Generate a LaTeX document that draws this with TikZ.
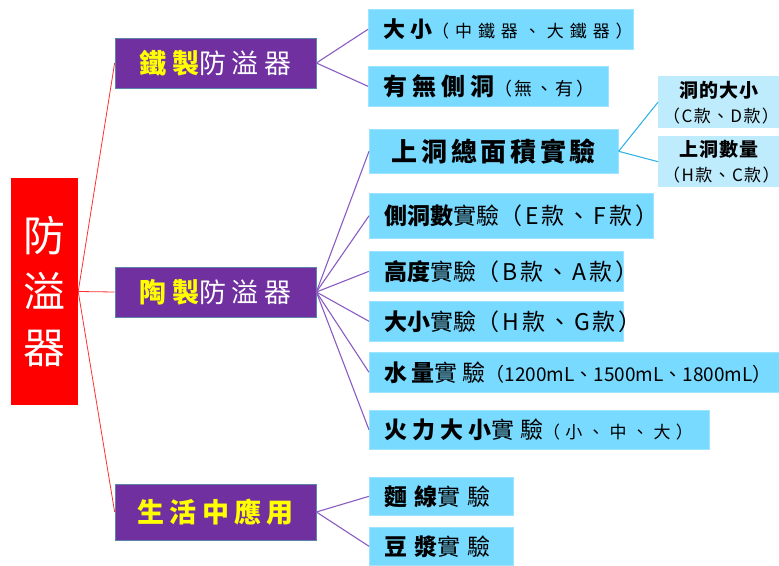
\documentclass[tikz,border=0pt]{standalone}
\usepackage{fontspec}
\newfontfamily\cjk{Noto Sans CJK TC}
\newcommand\seg[3]{{\fontsize{#1}{#1}\selectfont\addfontfeature{LetterSpace=#2}#3}}
\newcommand\bseg[3]{{\fontsize{#1}{#1}\selectfont\bfseries\addfontfeature{LetterSpace=#2}#3}}
\definecolor{purp}{HTML}{7030A0}
\definecolor{purpedge}{HTML}{5B84A8}
\definecolor{cfill}{HTML}{78DAFF}
\definecolor{cedge}{HTML}{9CE4FF}
\definecolor{dfill}{HTML}{BEECFD}
\definecolor{pline}{HTML}{8A5CC2}
\definecolor{bline}{HTML}{36B4E6}
\definecolor{rline}{HTML}{FF3030}
\definecolor{yel}{HTML}{FFFF00}
\begin{document}
\begin{tikzpicture}[x=1pt,y=-1pt,
  cb/.style={fill=cfill, draw=cedge, line width=0.6pt, anchor=north west, inner xsep=15pt, inner ysep=0pt, align=left, font=\cjk, text=black},
  db/.style={fill=dfill, draw=none, anchor=north west, inner xsep=5pt, inner ysep=0pt, align=center, font=\cjk\fontsize{16}{25}\selectfont, text width=111pt, text=black},
  pb/.style={fill=purp, draw=purpedge, line width=0.7pt, minimum width=201pt, inner sep=0pt, font=\cjk, text=white},
  rl/.style={draw=rline, line width=0.8pt},
  pl/.style={draw=pline, line width=1.1pt},
  bl/.style={draw=bline, line width=1.1pt}]
\useasboundingbox (0,0) rectangle (779,565);
\clip (0,0) rectangle (779,565);
% root
\node[fill=red, draw=none, minimum width=67pt, minimum height=227pt, inner sep=0pt, align=center, text=white, font=\cjk\fontsize{42}{56}\selectfont] (root) at (44.5,291.5) {防\\溢\\器};
% second level
\node[pb, minimum height=50pt] (iron) at (215.5,63) {\bseg{27}{20}{\color{yel}鐵製}\seg{27}{20}{防溢器}};
\node[pb, minimum height=50pt] (pot) at (215.5,292) {\bseg{27}{20}{\color{yel}陶製}\seg{27}{20}{防溢器}};
\node[pb, minimum height=56pt] (life) at (215.5,512) {\bseg{27}{20}{\color{yel}生活中應用}};
% iron children
\node[cb, text width=235pt, minimum height=40pt] (c1) at (368,9) {\bseg{22}{22}{大小}\seg{17}{35}{（中鐵器、大鐵器）}};
\node[cb, text width=210pt, minimum height=40pt] (c2) at (368,66) {\bseg{24}{21}{有無側洞}\seg{18}{14}{（無、有）}};
% pot children
\node[cb, align=center, text width=219pt, minimum height=44pt] (c3) at (369,129) {\bseg{26}{14}{上洞總面積實驗}};
\node[db, minimum height=52pt] (d1) at (658,76) {\bseg{19}{5}{洞的大小}\\\seg{17}{8}{（C款、D款）}};
\node[db, minimum height=51pt] (d2) at (658,136) {\bseg{19}{5}{上洞數量}\\\seg{17}{8}{（H款、C款）}};
\node[cb, text width=254pt, minimum height=45pt] (c4) at (369,193) {\bseg{23}{0}{側洞數}\seg{23}{0}{實驗}\seg{23}{13}{（E款、F款）}};
\node[cb, text width=224pt, minimum height=40pt] (c5) at (369,251) {\bseg{23}{0}{高度}\seg{23}{0}{實驗}\seg{23}{13}{（B款、A款）}};
\node[cb, text width=224pt, minimum height=40pt] (c6) at (369,301) {\bseg{23}{0}{大小}\seg{23}{0}{實驗}\seg{23}{13}{（H款、G款）}};
\node[cb, text width=380pt, minimum height=40pt] (c7) at (369,352) {\bseg{23}{20}{水量}\seg{23}{20}{實驗}\seg{19}{0}{（1200mL、1500mL、1800mL）}};
\node[cb, text width=310pt, minimum height=39pt] (c8) at (369,410) {\bseg{23}{22}{火力大小}\seg{23}{25}{實驗}\seg{17}{30}{（小、中、大）}};
% life children
\node[cb, text width=114pt, minimum height=38pt] (e1) at (369,477) {\bseg{23}{30}{麵線}\seg{23}{30}{實驗}};
\node[cb, text width=114pt, minimum height=38pt] (e2) at (369,527) {\bseg{23}{30}{豆漿}\seg{23}{30}{實驗}};
% connectors
\draw[rl] (root.east) -- (iron.west);
\draw[rl] (root.east) -- (pot.west);
\draw[rl] (root.east) -- (life.west);
\draw[pl] (iron.east) -- (c1.west);
\draw[pl] (iron.east) -- (c2.west);
\foreach \n in {c3,c4,c5,c6,c7,c8} \draw[pl] (pot.east) -- (\n.west);
\draw[pl] (life.east) -- (e1.west);
\draw[pl] (life.east) -- (e2.west);
\draw[bl] (c3.east) -- (d1.west);
\draw[bl] (c3.east) -- (d2.west);
\end{tikzpicture}
\end{document}
